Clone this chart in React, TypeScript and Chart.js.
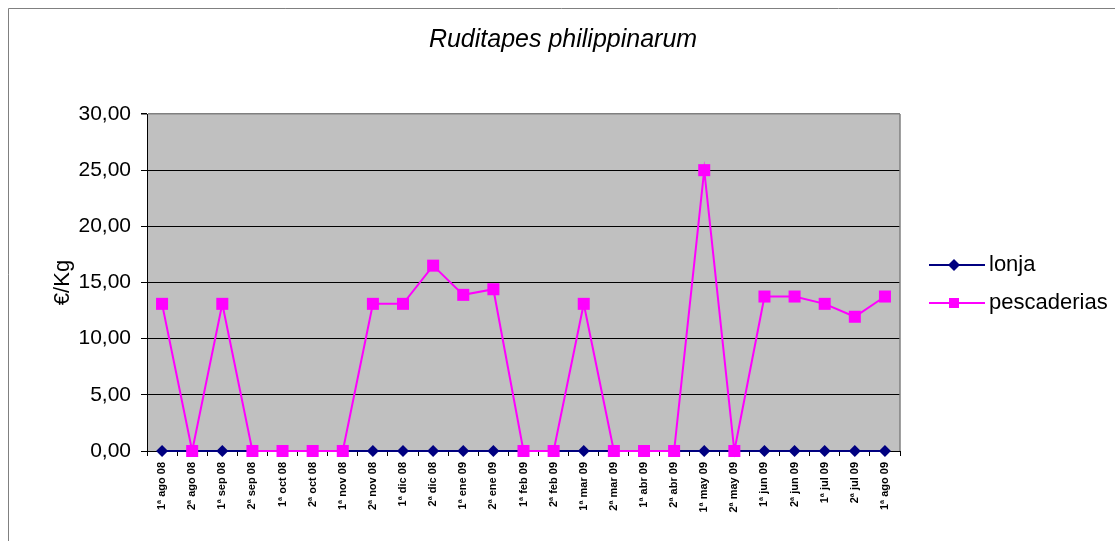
import React, { useEffect, useRef } from "react";
import { Chart, registerables } from "chart.js";

Chart.register(...registerables);

const categories = [
  "1ª ago 08", "2ª ago 08", "1ª sep 08", "2ª sep 08", "1ª oct 08", "2ª oct 08",
  "1ª nov 08", "2ª nov 08", "1ª dic 08", "2ª dic 08", "1ª ene 09", "2ª ene 09",
  "1ª feb 09", "2ª feb 09", "1ª mar 09", "2ª mar 09", "1ª abr 09", "2ª abr 09",
  "1ª may 09", "2ª may 09", "1ª jun 09", "2ª jun 09", "1ª jul 09", "2ª jul 09",
  "1ª ago 09",
];

const lonja = [0, 0, 0, 0, 0, 0, 0, 0, 0, 0, 0, 0, 0, 0, 0, 0, 0, 0, 0, 0, 0, 0, 0, 0, 0];

const pescaderias = [
  13.1, 0, 13.1, 0, 0, 0, 0, 13.1, 13.1, 16.5, 13.9, 14.4,
  0, 0, 13.1, 0, 0, 0, 25, 0, 13.75, 13.75, 13.1, 11.95, 13.75,
];

const chartTitle = "Ruditapes philippinarum";
const yTitle = "€/Kg";
const yMin = 0;
const yMax = 30;
const yStep = 5;

const FONT = "'Liberation Sans', Arial, sans-serif";

const framePlugin = {
  id: "frame",
  beforeDraw(chart: any) {
    const { ctx, chartArea, width, height } = chart;
    ctx.save();
    ctx.fillStyle = "#ffffff";
    ctx.fillRect(0, 0, width, height);
    ctx.strokeStyle = "#808080";
    ctx.lineWidth = 1;
    ctx.beginPath();
    ctx.moveTo(0.5, height);
    ctx.lineTo(0.5, 0.5);
    ctx.lineTo(width, 0.5);
    ctx.stroke();
    ctx.fillStyle = "#c0c0c0";
    ctx.fillRect(chartArea.left, chartArea.top, chartArea.right - chartArea.left, chartArea.bottom - chartArea.top);
    ctx.restore();
  },
  afterDatasetsDraw(chart: any) {
    const { ctx, chartArea } = chart;
    ctx.save();
    ctx.strokeStyle = "#808080";
    ctx.lineWidth = 1.5;
    ctx.beginPath();
    ctx.moveTo(chartArea.right, chartArea.bottom);
    ctx.lineTo(chartArea.right, chartArea.top);
    ctx.stroke();
    ctx.restore();
  },
  afterDraw(chart: any) {
    const { ctx } = chart;
    const items = chart.data.datasets;
    ctx.save();
    // title
    ctx.fillStyle = "#000000";
    ctx.font = `italic 25px ${FONT}`;
    ctx.textAlign = "center";
    ctx.textBaseline = "middle";
    ctx.fillText(chartTitle, 555, 32);
    // legend
    const order = [1, 0];
    const baseX = 921;
    const ys = [257, 295];
    order.forEach((idx, i) => {
      const ds: any = items[idx];
      const y = ys[i];
      ctx.strokeStyle = ds.borderColor;
      ctx.lineWidth = 2;
      ctx.beginPath();
      ctx.moveTo(baseX, y);
      ctx.lineTo(baseX + 56, y);
      ctx.stroke();
      ctx.fillStyle = ds.pointBackgroundColor;
      const cx = baseX + 25;
      if (ds.pointStyle === "rectRot") {
        ctx.beginPath();
        ctx.moveTo(cx, y - 6);
        ctx.lineTo(cx + 6, y);
        ctx.lineTo(cx, y + 6);
        ctx.lineTo(cx - 6, y);
        ctx.closePath();
        ctx.fill();
      } else {
        ctx.fillRect(cx - 5, y - 5, 10, 10);
      }
      ctx.fillStyle = "#000000";
      ctx.font = `22px ${FONT}`;
      ctx.textBaseline = "middle";
      ctx.textAlign = "left";
      ctx.fillText(ds.label, baseX + 60, y);
    });
    ctx.restore();
  },
};

export default function App() {
  const ref = useRef<HTMLCanvasElement | null>(null);

  useEffect(() => {
    if (!ref.current) return;
    const chart = new Chart(ref.current, {
      type: "line",
      data: {
        labels: categories,
        datasets: [
          {
            label: "pescaderias",
            data: pescaderias,
            borderColor: "#ff00ff",
            backgroundColor: "#ff00ff",
            pointBackgroundColor: "#ff00ff",
            pointBorderColor: "#ff00ff",
            pointStyle: "rect",
            pointRadius: 8.5,
            pointBorderWidth: 0,
            borderWidth: 2,
            tension: 0,
            clip: false as any,
            order: 0,
          },
          {
            label: "lonja",
            data: lonja,
            borderColor: "#000080",
            backgroundColor: "#000080",
            pointBackgroundColor: "#000080",
            pointBorderColor: "#000080",
            pointStyle: "rectRot",
            pointRadius: 6,
            pointBorderWidth: 0,
            borderWidth: 2,
            tension: 0,
            clip: false as any,
            order: 1,
          },
        ],
      },
      options: {
        animation: false,
        responsive: false,
        maintainAspectRatio: false,
        layout: { padding: { left: 0, right: 215, top: 106, bottom: 0 } },
        plugins: {
          legend: { display: false },
          tooltip: { enabled: false },
          title: { display: false },
        },
        scales: {
          x: {
            offset: true,
            grid: {
              offset: true,
              drawOnChartArea: false,
              drawTicks: true,
              tickLength: 5,
              color: "#000000",
            },
            border: { display: true, color: "#000000", width: 1 },
            ticks: {
              autoSkip: false,
              maxRotation: 90,
              minRotation: 90,
              padding: 6,
              color: "#000000",
              font: { family: FONT, size: 11, weight: "bold" },
            },
            afterFit(scale: any) {
              scale.height = 90;
            },
          },
          y: {
            min: yMin,
            max: yMax,
            ticks: {
              stepSize: yStep,
              color: "#000000",
              padding: 10,
              font: { family: FONT, size: 21 },
              callback: (v: any) => Number(v).toFixed(2).replace(".", ","),
            },
            grid: {
              color: (c: any) => (c.tick && c.tick.value === yMax ? "#808080" : "#000000"),
              lineWidth: (c: any) => (c.tick && c.tick.value === yMax ? 1.5 : 1),
              tickLength: 6,
              tickColor: "#000000",
            },
            border: { display: true, color: "#000000", width: 1 },
            title: {
              display: true,
              text: yTitle,
              color: "#000000",
              font: { family: FONT, size: 22 },
              padding: { top: 42, bottom: 0 },
            },
            afterFit(scale: any) {
              scale.width = 139;
            },
          },
        },
      },
      plugins: [framePlugin],
    });
    return () => chart.destroy();
  }, []);

  return (
    <div style={{ position: "fixed", left: 8, top: 8, width: 1107, height: 533 }}>
      <canvas ref={ref} width={1107} height={533} style={{ width: 1107, height: 533, display: "block" }} />
    </div>
  );
}
